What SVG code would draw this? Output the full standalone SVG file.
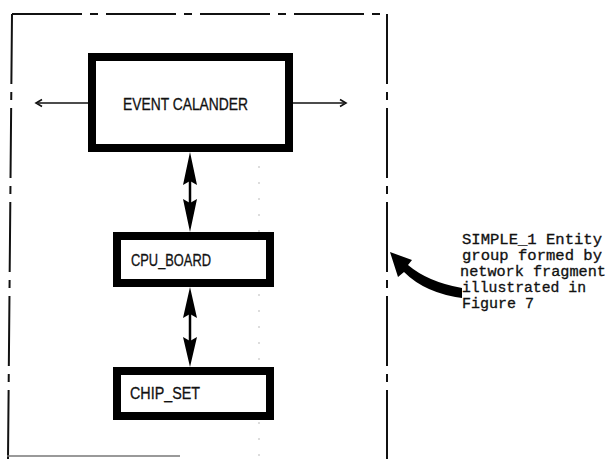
<svg xmlns="http://www.w3.org/2000/svg" width="607" height="459" viewBox="0 0 607 459">
<style>
.bound{fill:none;stroke:#111;stroke-width:2;stroke-dasharray:70 8 8 8}
.box{fill:#fff;stroke:#000;stroke-width:8}
.lbl{font-family:"Liberation Sans",Arial,sans-serif;font-size:16px;fill:#111;stroke:#111;stroke-width:0.3}
.note{font-family:"Liberation Mono","Courier New",monospace;font-size:14px;fill:#111;stroke:#111;stroke-width:0.3}
.shaft{stroke:#000;stroke-width:2.5;fill:none}
.head{fill:#000}
.thin{stroke:#111;stroke-width:1.6;fill:none}
</style>
<g id="boundary">
<line class="bound" x1="12" y1="14" x2="388" y2="14"/>
<line class="bound" x1="12" y1="14" x2="8" y2="459"/>
<line class="bound" x1="387" y1="14" x2="387" y2="459"/>
<line x1="7" y1="456" x2="180" y2="456" stroke="#777" stroke-width="1.5"/>
<line x1="259" y1="150" x2="259" y2="459" stroke="#bbb" stroke-width="1" stroke-dasharray="2 14"/>
</g>
<g id="event-calander">
<rect class="box" x="92" y="57" width="197" height="91"/>
<text class="lbl" x="123" y="110" textLength="125" lengthAdjust="spacingAndGlyphs">EVENT CALANDER</text>
</g>
<g id="cpu-board">
<rect class="box" x="117" y="236" width="153" height="47"/>
<text class="lbl" x="131" y="266" textLength="80" lengthAdjust="spacingAndGlyphs">CPU_BOARD</text>
</g>
<g id="chip-set">
<rect class="box" x="117" y="371" width="153" height="45"/>
<text class="lbl" x="130" y="399" textLength="70" lengthAdjust="spacingAndGlyphs">CHIP_SET</text>
</g>
<g id="connectors">
<line class="thin" x1="38" y1="103" x2="88" y2="103"/>
<polyline class="thin" points="42,99.5 36,103 42,106.5"/>
<line class="thin" x1="293" y1="103" x2="344" y2="103"/>
<polyline class="thin" points="340,99.5 346,103 340,106.5"/>
<line class="shaft" x1="190" y1="170" x2="190" y2="215"/>
<polygon class="head" points="190,152 197,185 190,181 183,185"/>
<polygon class="head" points="190,232 197,199 190,203 183,199"/>
<line class="shaft" x1="190" y1="300" x2="190" y2="355"/>
<polygon class="head" points="190,287 197,318 190,314 183,318"/>
<polygon class="head" points="190,367 197,337 190,341 183,337"/>
</g>
<g id="note">
<path class="head" d="M390,252 L412,260 L408,265 Q428,282 462,288 L462,298 Q425,293 404,272 L398,277 Z"/>
<text class="note" x="462" y="244" textLength="140" lengthAdjust="spacingAndGlyphs">SIMPLE_1 Entity</text>
<text class="note" x="462" y="260" textLength="140" lengthAdjust="spacingAndGlyphs">group formed by</text>
<text class="note" x="460" y="276" textLength="146" lengthAdjust="spacingAndGlyphs">network fragment</text>
<text class="note" x="462" y="292" textLength="124" lengthAdjust="spacingAndGlyphs">illustrated in</text>
<text class="note" x="462" y="308" textLength="72" lengthAdjust="spacingAndGlyphs">Figure 7</text>
</g>
</svg>
